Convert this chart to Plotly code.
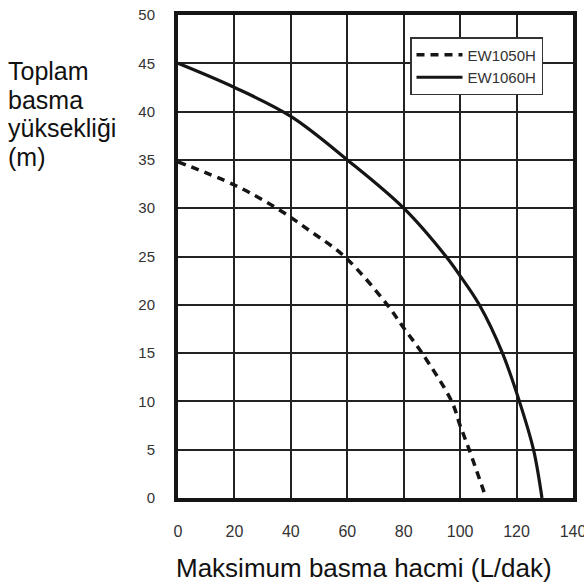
import plotly.graph_objects as go

# Data
ew1050_x = [0, 20, 35, 47, 59, 74.2, 80, 86.5, 97, 100, 103.2, 109.2]
ew1050_y = [34.8, 32.4, 30, 27.6, 25, 20, 17.6, 15, 10, 7.5, 5, 0]
ew1060_x = [0, 20, 40, 60, 80, 95, 100, 106.8, 115, 121, 126, 129]
ew1060_y = [45, 42.5, 39.5, 35, 30, 25, 23.0, 20, 15, 10, 5, 0]

x_ticks = [0, 20, 40, 60, 80, 100, 120, 140]
y_ticks = [0, 5, 10, 15, 20, 25, 30, 35, 40, 45, 50]
y_title_lines = ["Toplam", "basma", "yüksekliği", "(m)"]
x_title = "Maksimum basma hacmi (L/dak)"

LINE = "#151515"
GRID = "#222222"
FONT = "Liberation Sans, Arial, sans-serif"

W, H = 584, 584
L, R, T, B = 178, 11, 15, 86
plot_w = W - L - R
plot_h = H - T - B

def px_x(p):
    return (p - L) / plot_w

def px_y(p):
    return (H - B - p) / plot_h

fig = go.Figure()
fig.add_trace(go.Scatter(x=ew1050_x, y=ew1050_y, mode="lines", name="EW1050H",
                         line=dict(color=LINE, width=3.5, dash="8px,6px", shape="spline", smoothing=1.0)))
fig.add_trace(go.Scatter(x=ew1060_x, y=ew1060_y, mode="lines", name="EW1060H",
                         line=dict(color=LINE, width=3.2, shape="spline", smoothing=1.0)))

annotations = [
    dict(text=x_title, x=px_x(364), y=px_y(568), xref="paper", yref="paper",
         xanchor="center", yanchor="middle", showarrow=False,
         font=dict(size=26, color="#111111", family=FONT)),
]
for i, line in enumerate(y_title_lines):
    annotations.append(dict(text=line, xref="paper", yref="paper",
                            x=px_x(6), y=px_y(71 + 28.7 * i), xanchor="left", yanchor="middle",
                            showarrow=False, font=dict(size=25, color="#111111", family=FONT)))

fig.update_layout(
    width=W, height=H,
    margin=dict(l=L, r=R, t=T, b=B, autoexpand=False),
    paper_bgcolor="white", plot_bgcolor="white",
    font=dict(family=FONT, color="#333333", size=15),
    showlegend=True,
    legend=dict(x=px_x(410), y=px_y(37), xanchor="left", yanchor="top",
                bgcolor="white", bordercolor="#333333", borderwidth=1.5,
                font=dict(size=15, color="#333333"), tracegroupgap=0, itemwidth=46),
    xaxis=dict(range=[0, 140], tickvals=x_ticks, showgrid=True, gridcolor=GRID, gridwidth=2,
               showline=True, linecolor=LINE, linewidth=4, mirror=True, zeroline=False,
               ticks="", ticklabelstandoff=16, tickfont=dict(size=16, color="#333333"),
               ticklabeloverflow="allow", automargin=False, fixedrange=True),
    yaxis=dict(range=[0, 50], tickvals=y_ticks, showgrid=True, gridcolor=GRID, gridwidth=2,
               showline=True, linecolor=LINE, linewidth=4, mirror=True, zeroline=False,
               ticks="", ticklabelstandoff=16, tickfont=dict(size=15, color="#333333"),
               ticklabeloverflow="allow", automargin=False, fixedrange=True),
    annotations=annotations,
)

fig.write_html("out.html", config={"displayModeBar": False},
               post_script="document.body.style.margin='0px';")
